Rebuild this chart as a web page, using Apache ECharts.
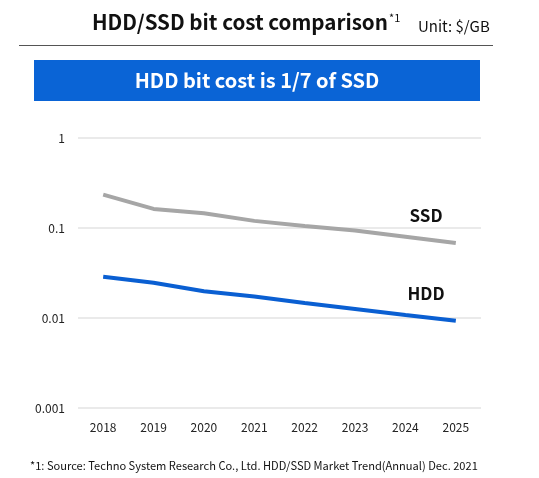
<!DOCTYPE html>
<html>
<head>
<meta charset="utf-8">
<script src="https://cdn.jsdelivr.net/npm/echarts@6/dist/echarts.min.js"></script>
<style>
  html, body { margin: 0; padding: 0; background: #fff; }
  #chart { width: 539px; height: 478px; }
</style>
</head>
<body>
<div id="chart"></div>
<script>
// データ
const years = ["2018", "2019", "2020", "2021", "2022", "2023", "2024", "2025"];
const ssdCost = [0.235, 0.163, 0.146, 0.12, 0.105, 0.094, 0.08, 0.068];
const hddCost = [0.0288, 0.0247, 0.0198, 0.0173, 0.0147, 0.0126, 0.0108, 0.0093];
const yTicks = [0.001, 0.01, 0.1, 1];

const FONT = "Noto Sans CJK JP";

const myChart = echarts.init(document.getElementById("chart"));
const option = {
  animation: false,
  textStyle: { fontFamily: FONT },
  grid: { left: 78, right: 58, top: 138, bottom: 70 },
  xAxis: {
    type: "category",
    data: years,
    boundaryGap: true,
    axisLine: { show: false },
    axisTick: { show: false },
    axisLabel: { color: "#222", fontSize: 12, margin: 13, fontFamily: FONT },
  },
  yAxis: {
    type: "log",
    logBase: 10,
    min: yTicks[0],
    max: yTicks[yTicks.length - 1],
    axisLine: { show: false },
    axisTick: { show: false },
    splitLine: { lineStyle: { color: "#e3e3e3", width: 1.5 } },
    axisLabel: {
      color: "#222",
      fontSize: 12,
      margin: 13,
      fontFamily: FONT,
      formatter: (v) => String(+v.toPrecision(1)),
    },
  },
  series: [
    {
      name: "SSD",
      type: "line",
      data: ssdCost,
      symbol: "none",
      lineStyle: { color: "#a6a6a6", width: 4 },
    },
    {
      name: "HDD",
      type: "line",
      data: hddCost,
      symbol: "none",
      lineStyle: { color: "#0a5fd2", width: 4 },
    },
  ],
  graphic: [
    // タイトル
    {
      type: "text",
      left: 92,
      top: 12,
      style: { text: "HDD/SSD bit cost comparison", font: "bold 20.6px " + FONT, fill: "#111" },
    },
    {
      type: "text",
      left: 389,
      top: 12,
      style: { text: "*1", font: "11px " + FONT, fill: "#111" },
    },
    {
      type: "text",
      left: 418,
      top: 19,
      style: { text: "Unit: $/GB", font: "15px " + FONT, fill: "#111" },
    },
    {
      type: "line",
      shape: { x1: 19, y1: 45.5, x2: 493, y2: 45.5 },
      style: { stroke: "#555", lineWidth: 1 },
    },
    // 青いバナー
    {
      type: "rect",
      shape: { x: 34, y: 60, width: 446, height: 41 },
      style: { fill: "#0a64d6" },
    },
    {
      type: "text",
      x: 257,
      y: 80.5,
      style: {
        text: "HDD bit cost is 1/7 of SSD",
        font: "bold 20px " + FONT,
        fill: "#fff",
        align: "center",
        verticalAlign: "middle",
      },
    },
    // 系列ラベル
    {
      type: "text",
      x: 426,
      y: 216,
      style: { text: "SSD", font: "bold 17px " + FONT, fill: "#111", align: "center", verticalAlign: "middle" },
    },
    {
      type: "text",
      x: 426,
      y: 294,
      style: { text: "HDD", font: "bold 17px " + FONT, fill: "#111", align: "center", verticalAlign: "middle" },
    },
    // 脚注
    {
      type: "text",
      left: 30,
      top: 460,
      style: {
        text: "*1: Source: Techno System Research Co., Ltd. HDD/SSD Market Trend(Annual) Dec. 2021",
        font: "11.1px " + FONT,
        fill: "#111",
      },
    },
  ],
};
myChart.setOption(option);
</script>
</body>
</html>
